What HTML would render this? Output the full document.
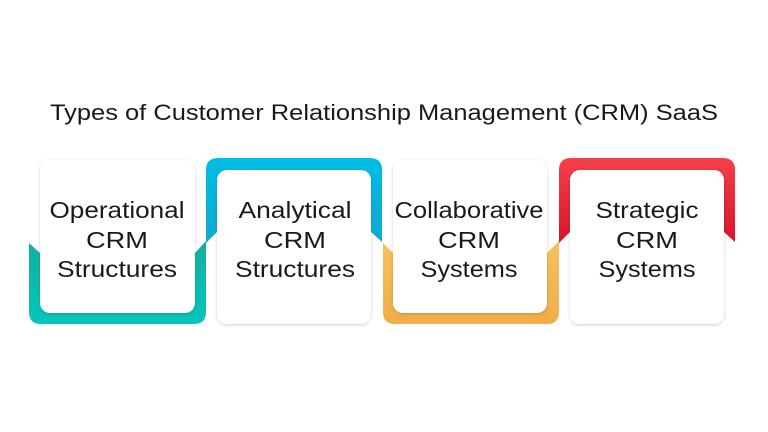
<!DOCTYPE html>
<html><head><meta charset="utf-8"><style>
html,body{margin:0;padding:0;background:#fff;}
svg{display:block;}
text{font-family:"Liberation Sans",sans-serif;fill:#1a1a1a;}
</style></head><body>
<svg width="768" height="432" viewBox="0 0 768 432">
<defs>
<linearGradient id="tg" x1="0" y1="0" x2="0" y2="1"><stop offset="0" stop-color="#13ae9f"/><stop offset="1" stop-color="#06c6bd"/></linearGradient>
<linearGradient id="bg" x1="0" y1="0" x2="0" y2="1"><stop offset="0" stop-color="#00bde6"/><stop offset="1" stop-color="#12a9d0"/></linearGradient>
<linearGradient id="og" x1="0" y1="0" x2="0" y2="1"><stop offset="0" stop-color="#f7c25c"/><stop offset="1" stop-color="#f0ad48"/></linearGradient>
<linearGradient id="rg" x1="0" y1="0" x2="0" y2="1"><stop offset="0" stop-color="#f4404b"/><stop offset="1" stop-color="#d8142a"/></linearGradient>
<filter id="sh" x="-10%" y="-10%" width="120%" height="120%"><feDropShadow dx="0" dy="1" stdDeviation="1.5" flood-color="#000" flood-opacity="0.18"/></filter>
</defs>
<text x="50" y="120" font-size="22.5" textLength="668" lengthAdjust="spacingAndGlyphs">Types of Customer Relationship Management (CRM) SaaS</text>

<path d="M29,243 L40,253 L195,253 L206,241 L206,312 Q206,324 194,324 L41,324 Q29,324 29,312 Z" fill="url(#tg)"/>
<rect x="40" y="160" width="155" height="153" rx="10" fill="#fff" filter="url(#sh)"/>

<path d="M206,170 Q206,158 218,158 L370,158 Q382,158 382,170 L382,242 L371,232 L217,232 L206,243 Z" fill="url(#bg)"/>
<rect x="217" y="170" width="154" height="154" rx="10" fill="#fff" filter="url(#sh)"/>

<path d="M383,243 L393,253 L547,253 L559,241 L559,312 Q559,324 547,324 L395,324 Q383,324 383,312 Z" fill="url(#og)"/>
<rect x="393" y="160" width="154" height="153" rx="10" fill="#fff" filter="url(#sh)"/>

<path d="M559,170 Q559,158 571,158 L723,158 Q735,158 735,170 L735,242 L724,232 L570,232 L559,243 Z" fill="url(#rg)"/>
<rect x="570" y="170" width="154" height="154" rx="10" fill="#fff" filter="url(#sh)"/>

<g font-size="23.5" text-anchor="middle">
<text x="117" y="218" textLength="135" lengthAdjust="spacingAndGlyphs">Operational</text><text x="117" y="248" textLength="62" lengthAdjust="spacingAndGlyphs">CRM</text><text x="117" y="277" textLength="120" lengthAdjust="spacingAndGlyphs">Structures</text>
<text x="295" y="218" textLength="113" lengthAdjust="spacingAndGlyphs">Analytical</text><text x="295" y="248" textLength="62" lengthAdjust="spacingAndGlyphs">CRM</text><text x="295" y="277" textLength="120" lengthAdjust="spacingAndGlyphs">Structures</text>
<text x="469" y="218" textLength="149" lengthAdjust="spacingAndGlyphs">Collaborative</text><text x="469" y="248" textLength="62" lengthAdjust="spacingAndGlyphs">CRM</text><text x="469" y="277" textLength="97" lengthAdjust="spacingAndGlyphs">Systems</text>
<text x="647" y="218" textLength="103" lengthAdjust="spacingAndGlyphs">Strategic</text><text x="647" y="248" textLength="62" lengthAdjust="spacingAndGlyphs">CRM</text><text x="647" y="277" textLength="97" lengthAdjust="spacingAndGlyphs">Systems</text>
</g>
</svg>
</body></html>
